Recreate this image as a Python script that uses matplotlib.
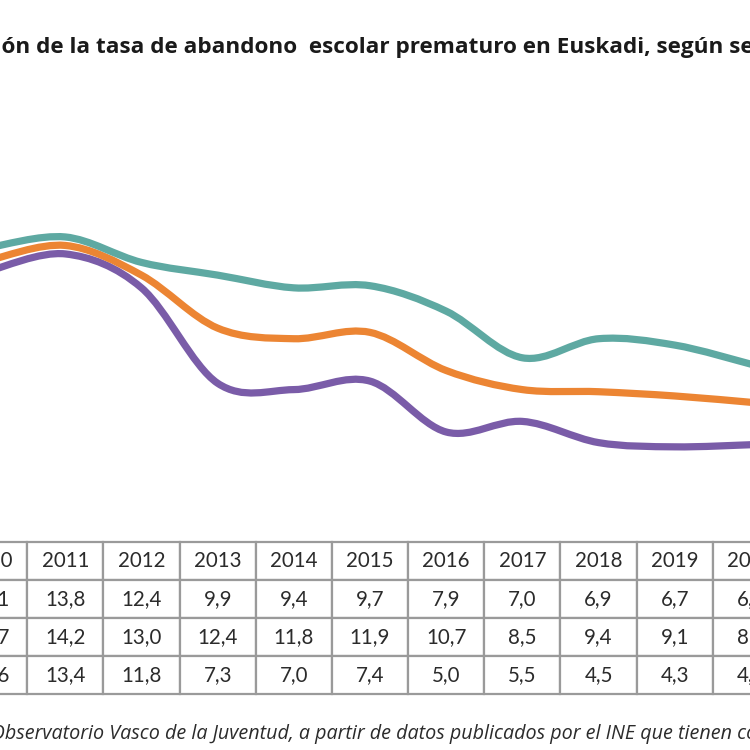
import matplotlib
matplotlib.use("Agg")
import matplotlib.pyplot as plt
from matplotlib.path import Path
from matplotlib.patches import PathPatch

years = [2010, 2011, 2012, 2013, 2014, 2015, 2016, 2017, 2018, 2019, 2020]
total = [13.1, 13.8, 12.4, 9.9, 9.4, 9.7, 7.9, 7.0, 6.9, 6.7, 6.4]
hombres = [13.7, 14.2, 13.0, 12.4, 11.8, 11.9, 10.7, 8.5, 9.4, 9.1, 8.2]
mujeres = [12.6, 13.4, 11.8, 7.3, 7.0, 7.4, 5.0, 5.5, 4.5, 4.3, 4.4]

title = "Evolución de la tasa de abandono  escolar prematuro en Euskadi, según sexo (%)"
title_hidden = "Evoluci"
source = "Fuente: Observatorio Vasco de la Juventud, a partir de datos publicados por el INE que tienen como fuente la EPA."
source_hidden = "Fuente: "

plt.rcParams['font.family'] = ['Lato', 'DejaVu Sans']

W = 750.0


def smooth_path(xs, ys):
    # smoothed line like the spreadsheet one: bezier segments through the points
    pts = list(zip(xs, ys))
    verts = [pts[0]]
    codes = [Path.MOVETO]
    n = len(pts)
    for i in range(n - 1):
        p0 = pts[max(i - 1, 0)]
        p1 = pts[i]
        p2 = pts[i + 1]
        p3 = pts[min(i + 2, n - 1)]
        c1 = (p1[0] + (p2[0] - p0[0]) / 6, p1[1] + (p2[1] - p0[1]) / 6)
        c2 = (p2[0] - (p3[0] - p1[0]) / 6, p2[1] - (p3[1] - p1[1]) / 6)
        verts += [c1, c2, p2]
        codes += [Path.CURVE4] * 3
    return Path(verts, codes)


fig = plt.figure(figsize=(7.5, 7.5), dpi=100)

# plot area is wider than the picture (cropped view)
left = -49 / W
width = 838 / W
ax = fig.add_axes([left, (750 - 538) / W, width, (538 - 114) / W])
ax.set_xlim(2009.5, 2020.5)
ax.set_ylim(0, 20)
ax.axis('off')

series = [(mujeres, '#7a5ca8'), (total, '#ec8533'), (hombres, '#5ea9a2')]
for z, (vals, col) in enumerate(series):
    patch = PathPatch(smooth_path(years, vals), facecolor='none', edgecolor=col,
                      lw=5.2, capstyle='round', joinstyle='round', zorder=2 + z)
    ax.add_patch(patch)

# data table under the chart
tax = fig.add_axes([left, (750 - 694) / W, width, (694 - 542) / W])
tax.axis('off')
fmt = lambda v: f"{v:.1f}".replace('.', ',')
rows = [[str(y) for y in years],
        [fmt(v) for v in total],
        [fmt(v) for v in hombres],
        [fmt(v) for v in mujeres]]
tbl = tax.table(cellText=rows, cellLoc='center', bbox=[0, 0, 1, 1])
tbl.auto_set_font_size(False)
for cell in tbl.get_celld().values():
    cell.set_edgecolor('#9a9a9a')
    cell.set_linewidth(1.6)
    cell.get_text().set_fontsize(14.8)
    cell.get_text().set_color('#2b2b2b')

r = fig.canvas.get_renderer()


def offset_text(full, hidden, x_px, y_px, **kw):
    t = fig.text(0, 0, hidden, **kw)
    w = t.get_window_extent(r).width
    t.remove()
    fig.text((x_px - w) / W, (750 - y_px) / W, full, va='baseline', **kw)


offset_text(title, title_hidden, 2, 53, fontsize=16.2, fontweight='bold',
            color='#1a1a1a', family='Open Sans')
offset_text(source, source_hidden, -9, 739, fontsize=14.2, style='italic',
            color='#2b2b2b', family='Open Sans')

fig.savefig('out.png', dpi=100)
